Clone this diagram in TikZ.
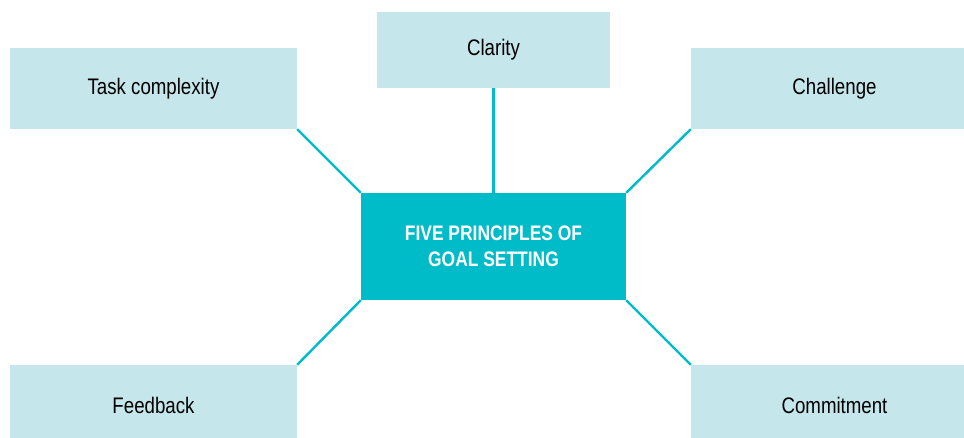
\documentclass[tikz,border=0pt]{standalone}
\usepackage{fontspec}
\setmainfont[FakeStretch=0.83]{Liberation Sans}
\definecolor{lightbox}{HTML}{C5E6EB}
\definecolor{teal}{HTML}{00BCC9}
\begin{document}
\begin{tikzpicture}[x=1pt,y=-1pt,
  outer/.style={fill=lightbox, draw=none, inner sep=0pt, minimum width=287pt, minimum height=81pt, font=\fontsize{22.5}{26}\selectfont, text=black},
  hub/.style={fill=teal, draw=none, inner sep=0pt, minimum width=265pt, minimum height=107pt, font=\fontsize{21}{25.5}\selectfont\bfseries, text=white, align=center},
  link/.style={draw=teal, line width=2.4pt}]
\clip (0,0) rectangle (964,438);
\fill[white] (0,0) rectangle (964,438);
\node[hub] (hub) at (493.5,246.5) {FIVE PRINCIPLES OF\\GOAL SETTING};
\node[outer, minimum width=233pt, minimum height=76pt] (clarity) at (493.5,50) {Clarity};
\node[outer] (task) at (153.5,88.5) {Task complexity};
\node[outer] (challenge) at (834.5,88.5) {Challenge};
\node[outer] (feedback) at (153.5,405.5) {Feedback};
\node[outer] (commit) at (834.5,405.5) {Commitment};
\draw[link] (task.south east) -- (hub.north west);
\draw[link] (clarity.south) -- (hub.north);
\draw[link] (challenge.south west) -- (hub.north east);
\draw[link] (feedback.north east) -- (hub.south west);
\draw[link] (commit.north west) -- (hub.south east);
\end{tikzpicture}
\end{document}
